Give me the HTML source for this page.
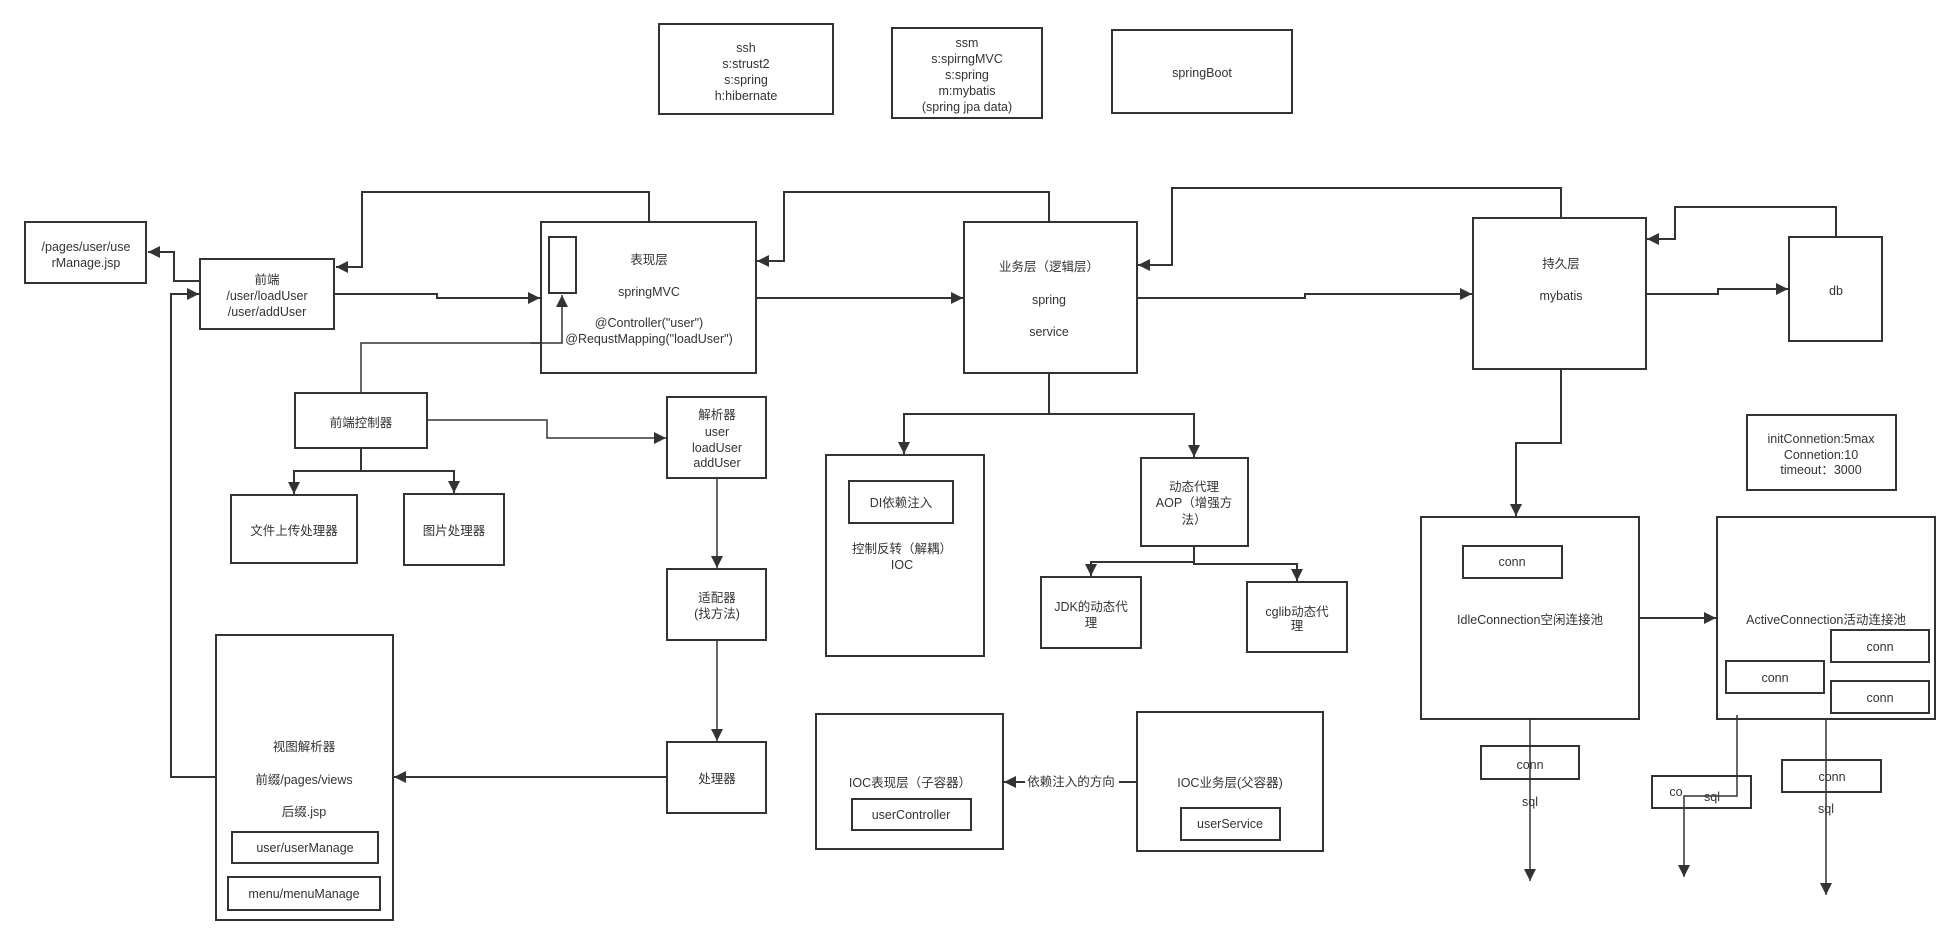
<!DOCTYPE html>
<html><head><meta charset="utf-8"><style>
html,body{margin:0;padding:0;background:#fff;}
svg{display:block;}
text{font-family:"Liberation Sans","Noto Sans CJK SC",sans-serif;font-size:12.5px;fill:#333;text-anchor:middle;}
.b{fill:#fff;stroke:#333;stroke-width:2;}
.l{fill:none;stroke:#333;stroke-width:2;}
.t{fill:none;stroke:#333;stroke-width:1.5;}
</style></head><body>
<svg width="1959" height="945" viewBox="0 0 1959 945" xmlns="http://www.w3.org/2000/svg">
<defs>
<marker id="a" viewBox="0 0 10 10" refX="10" refY="5" markerWidth="14" markerHeight="12" markerUnits="userSpaceOnUse" orient="auto"><path d="M0,0 L10,5 L0,10 z" fill="#333"/></marker>
</defs>
<g>
<rect class="b" x="659" y="24" width="174" height="90"/>
<text x="746" y="52">ssh</text><text x="746" y="68">s:strust2</text><text x="746" y="84">s:spring</text><text x="746" y="100">h:hibernate</text>
<rect class="b" x="892" y="28" width="150" height="90"/>
<text x="967" y="47">ssm</text><text x="967" y="63">s:spirngMVC</text><text x="967" y="79">s:spring</text><text x="967" y="95">m:mybatis</text><text x="967" y="111">(spring jpa data)</text>
<rect class="b" x="1112" y="30" width="180" height="83"/>
<text x="1202" y="77">springBoot</text>

<path class="l" d="M649,222 V192 H362 V267 H336" marker-end="url(#a)"/>
<path class="l" d="M200,281 H174 V252 H148" marker-end="url(#a)"/>
<path class="l" d="M334,294 H437 V298 H540" marker-end="url(#a)"/>
<path class="l" d="M216,777 H171 V294 H199" marker-end="url(#a)"/>
<path class="t" d="M361,393 V343 H562 V295" marker-end="url(#a)"/>
<path class="t" d="M427,420 H547 V438 H666" marker-end="url(#a)"/>
<path class="l" d="M361,448 V471 H294 V494" marker-end="url(#a)"/>
<path class="l" d="M361,471 H454 V493" marker-end="url(#a)"/>
<path class="t" d="M717,478 V568" marker-end="url(#a)"/>
<path class="t" d="M717,640 V741" marker-end="url(#a)"/>
<path class="l" d="M667,777 H394" marker-end="url(#a)"/>
<path class="l" d="M756,298 H963" marker-end="url(#a)"/>
<path class="l" d="M1049,222 V192 H784 V261 H757" marker-end="url(#a)"/>
<path class="l" d="M1561,218 V188 H1172 V265 H1138" marker-end="url(#a)"/>
<path class="l" d="M1137,298 H1305 V294 H1472" marker-end="url(#a)"/>
<path class="l" d="M1646,294 H1718 V289 H1788" marker-end="url(#a)"/>
<path class="l" d="M1836,237 V207 H1675 V239 H1647" marker-end="url(#a)"/>
<path class="l" d="M1049,373 V414 H904 V454" marker-end="url(#a)"/>
<path class="l" d="M1049,414 H1194 V457" marker-end="url(#a)"/>
<path class="l" d="M1194,546 V562 H1091 V576" marker-end="url(#a)"/>
<path class="l" d="M1194,562 V564 H1297 V581" marker-end="url(#a)"/>
<path class="l" d="M1561,369 V443 H1516 V516" marker-end="url(#a)"/>
<path class="l" d="M1639,618 H1716" marker-end="url(#a)"/>
<path class="l" d="M1137,782 H1004" marker-end="url(#a)"/>

<rect class="b" x="25" y="222" width="121" height="61"/>
<text x="86" y="251">/pages/user/use</text><text x="86" y="267">rManage.jsp</text>
<rect class="b" x="200" y="259" width="134" height="70"/>
<text x="267" y="284">前端</text><text x="267" y="300">/user/loadUser</text><text x="267" y="316">/user/addUser</text>
<rect class="b" x="541" y="222" width="215" height="151"/>
<rect class="b" x="549" y="237" width="27" height="56"/>
<text x="649" y="264">表现层</text><text x="649" y="296">springMVC</text><text x="649" y="327">@Controller("user")</text><text x="649" y="343">@RequstMapping("loadUser")</text>
<path class="t" d="M530,343 H562 V295" marker-end="url(#a)"/>
<rect class="b" x="295" y="393" width="132" height="55"/>
<text x="361" y="427">前端控制器</text>
<rect class="b" x="667" y="397" width="99" height="81"/>
<text x="717" y="419">解析器</text><text x="717" y="436">user</text><text x="717" y="452">loadUser</text><text x="717" y="467">addUser</text>
<rect class="b" x="231" y="495" width="126" height="68"/>
<text x="294" y="535">文件上传处理器</text>
<rect class="b" x="404" y="494" width="100" height="71"/>
<text x="454" y="535">图片处理器</text>
<rect class="b" x="667" y="569" width="99" height="71"/>
<text x="717" y="602">适配器</text><text x="717" y="618">(找方法)</text>
<rect class="b" x="667" y="742" width="99" height="71"/>
<text x="717" y="783">处理器</text>
<rect class="b" x="216" y="635" width="177" height="285"/>
<text x="304" y="751">视图解析器</text><text x="304" y="784">前缀/pages/views</text><text x="304" y="816">后缀.jsp</text>
<rect class="b" x="232" y="832" width="146" height="31"/><text x="305" y="852">user/userManage</text>
<rect class="b" x="228" y="877" width="152" height="33"/><text x="304" y="898">menu/menuManage</text>

<rect class="b" x="964" y="222" width="173" height="151"/>
<text x="1049" y="271">业务层（逻辑层）</text><text x="1049" y="304">spring</text><text x="1049" y="336">service</text>
<rect class="b" x="826" y="455" width="158" height="201"/>
<rect class="b" x="849" y="481" width="104" height="42"/><text x="901" y="507">DI依赖注入</text>
<text x="902" y="553">控制反转（解耦）</text><text x="902" y="569">IOC</text>
<rect class="b" x="1141" y="458" width="107" height="88"/>
<text x="1194" y="491">动态代理</text><text x="1194" y="507">AOP（增强方</text><text x="1194" y="524">法）</text>
<rect class="b" x="1041" y="577" width="100" height="71"/>
<text x="1091" y="611">JDK的动态代</text><text x="1091" y="627">理</text>
<rect class="b" x="1247" y="582" width="100" height="70"/>
<text x="1297" y="616">cglib动态代</text><text x="1297" y="630">理</text>
<rect class="b" x="816" y="714" width="187" height="135"/>
<text x="910" y="787">IOC表现层（子容器）</text>
<rect class="b" x="852" y="799" width="119" height="31"/><text x="911" y="819">userController</text>
<rect class="b" x="1137" y="712" width="186" height="139"/>
<text x="1230" y="787">IOC业务层(父容器)</text>
<rect class="b" x="1181" y="808" width="99" height="32"/><text x="1230" y="828">userService</text>
<rect x="1025" y="774" width="94" height="16" fill="#fff"/>
<text x="1071" y="786">依赖注入的方向</text>

<rect class="b" x="1473" y="218" width="173" height="151"/>
<text x="1561" y="268">持久层</text><text x="1561" y="300">mybatis</text>
<rect class="b" x="1789" y="237" width="93" height="104"/>
<text x="1836" y="295">db</text>
<rect class="b" x="1747" y="415" width="149" height="75"/>
<text x="1821" y="443">initConnetion:5max</text><text x="1821" y="459">Connetion:10</text><text x="1821" y="474">timeout：3000</text>
<rect class="b" x="1421" y="517" width="218" height="202"/>
<rect class="b" x="1463" y="546" width="99" height="32"/><text x="1512" y="566">conn</text>
<text x="1530" y="624">IdleConnection空闲连接池</text>
<rect class="b" x="1717" y="517" width="218" height="202"/>
<text x="1826" y="624">ActiveConnection活动连接池</text>
<rect class="b" x="1831" y="630" width="98" height="32"/><text x="1880" y="651">conn</text>
<rect class="b" x="1726" y="661" width="98" height="32"/><text x="1775" y="682">conn</text>
<rect class="b" x="1831" y="681" width="98" height="32"/><text x="1880" y="702">conn</text>

<rect class="b" x="1481" y="746" width="98" height="33"/><text x="1530" y="769">conn</text>
<rect class="b" x="1652" y="776" width="99" height="32"/>
<rect class="b" x="1782" y="760" width="99" height="32"/><text x="1832" y="781">conn</text>
<path class="t" d="M1530,719 V881" marker-end="url(#a)"/>
<text x="1530" y="806">sql</text>
<path class="t" d="M1737,715 V796 H1684 V877" marker-end="url(#a)"/>
<text x="1676" y="796">co</text><text x="1712" y="801">sql</text>
<path class="t" d="M1826,719 V895" marker-end="url(#a)"/>
<text x="1826" y="813">sql</text>
</g>
</svg>
</body></html>
